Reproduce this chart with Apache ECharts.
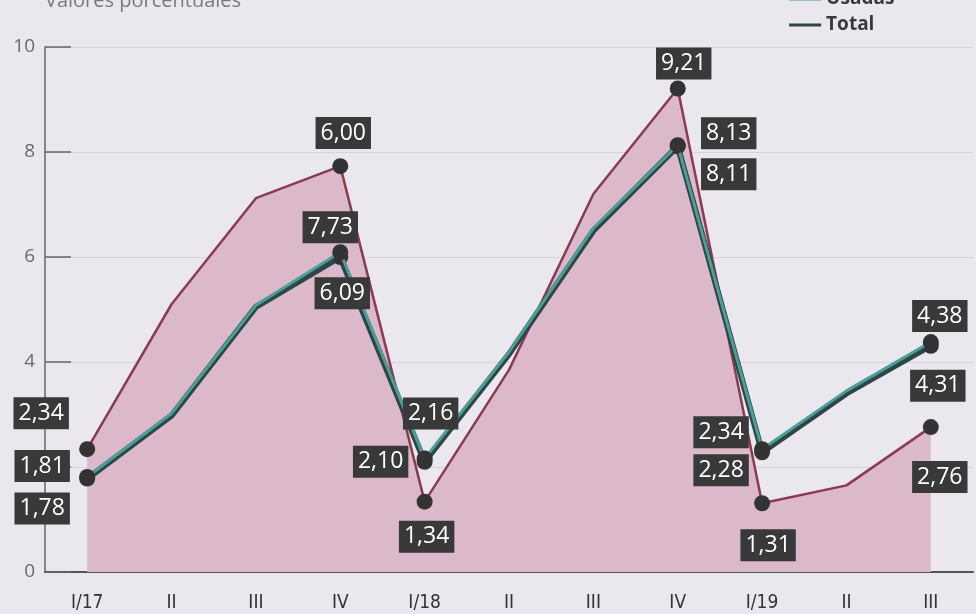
<!DOCTYPE html>
<html>
<head>
<meta charset="utf-8">
<script src="https://cdn.jsdelivr.net/npm/echarts@6/dist/echarts.min.js"></script>
<style>
html,body{margin:0;padding:0;background:#ebe7ef;}
#c{width:976px;height:614px;}
</style>
</head>
<body>
<div id="c"></div>
<script>
const categories = ['I/17','II','III','IV','I/18','II','III','IV','I/19','II','III'];
const nuevas = [2.34, 5.10, 7.12, 7.73, 1.34, 3.85, 7.20, 9.21, 1.31, 1.65, 2.76];
const usadas = [1.81, 3.02, 5.08, 6.09, 2.16, 4.19, 6.55, 8.13, 2.34, 3.45, 4.38];
const total  = [1.78, 2.98, 5.05, 6.00, 2.10, 4.15, 6.50, 8.11, 2.28, 3.40, 4.31];
const yTicks = [0, 2, 4, 6, 8, 10];

// label placement (index -> offset), style only
const nuevasLabels = {0:[-46,-36], 3:[-10,61], 4:[2,35], 7:[6,-25], 8:[6,42], 10:[9,50]};
const usadasLabels = {0:[-45,-11], 3:[2,41], 4:[6,-45], 7:[51,-12], 8:[-41,-17], 10:[9,-26]};
const totalLabels  = {0:[-45,30], 3:[3,-124], 4:[-44,0], 7:[51,28], 8:[-41,18], 10:[7,40]};

const fmt = v => v.toFixed(2).replace('.', ',');
const labelBase = {
  show: true, position: 'inside', backgroundColor: '#393939', color: '#fff',
  fontSize: 23, fontFamily: 'Open Sans', padding: [2, 5, 0, 5], lineHeight: 30
};
function build(values, spec) {
  return values.map((v, i) => {
    if (spec[i]) {
      return {
        value: v, symbol: 'circle', symbolSize: 16,
        itemStyle: {color: '#333'},
        label: Object.assign({}, labelBase, {offset: spec[i], formatter: fmt(v)})
      };
    }
    return {value: v, symbol: 'none', label: {show: false}};
  });
}

const chart = echarts.init(document.getElementById('c'));
chart.setOption({
  backgroundColor: '#ebe7ef',
  animation: false,
  title: {
    text: 'Valores porcentuales', left: 40, top: -14,
    textStyle: {fontSize: 20, fontWeight: 'normal', color: '#7a7a7a', fontFamily: 'Open Sans'}
  },
  legend: {
    orient: 'vertical', right: 74, top: -44, itemGap: 2,
    icon: 'rect', itemWidth: 32, itemHeight: 3,
    data: ['Nuevas', 'Usadas', 'Total'],
    textStyle: {fontSize: 19, fontWeight: 'bold', color: '#3a3a3a', fontFamily: 'Open Sans', lineHeight: 24}
  },
  grid: {left: 45, right: 3, top: 47, bottom: 42},
  xAxis: {
    type: 'category', data: categories, boundaryGap: true,
    axisLine: {lineStyle: {color: '#555', width: 2}},
    axisTick: {show: false},
    axisLabel: {fontSize: 19, color: '#333', margin: 22, fontFamily: "'DejaVu Sans Condensed', 'Open Sans', sans-serif"}
  },
  yAxis: {
    type: 'value', min: yTicks[0], max: yTicks[yTicks.length - 1], interval: 2,
    axisLine: {show: true, lineStyle: {color: '#666', width: 1.5}},
    axisTick: {show: true, inside: true, length: 26, lineStyle: {color: '#666', width: 1.5}},
    splitLine: {show: true, lineStyle: {color: '#d6d3da', width: 1}},
    axisLabel: {fontSize: 19, color: '#6a6a6a', margin: 10, fontFamily: 'Open Sans'}
  },
  series: [
    {
      name: 'Nuevas', type: 'line', data: build(nuevas, nuevasLabels), z: 2,
      lineStyle: {color: '#8b3b4f', width: 2.5}, itemStyle: {color: '#8b3b4f'},
      areaStyle: {color: '#dbb9cb', opacity: 1}
    },
    {
      name: 'Total', type: 'line', data: build(total, totalLabels), z: 3,
      lineStyle: {color: '#2d4646', width: 6}, itemStyle: {color: '#2d4646'}
    },
    {
      name: 'Usadas', type: 'line', data: build(usadas, usadasLabels), z: 4,
      lineStyle: {color: '#4d9e9a', width: 3}, itemStyle: {color: '#4d9e9a'}
    }
  ]
});
</script>
</body>
</html>
